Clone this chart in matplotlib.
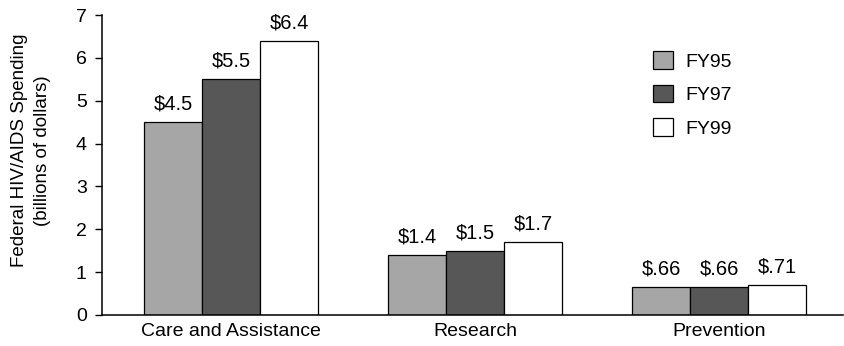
import numpy as np
import matplotlib.pyplot as plt

plt.rcParams['font.family'] = ['Liberation Sans', 'DejaVu Sans']
plt.rcParams['font.size'] = 13

categories = ['Care and Assistance', 'Research', 'Prevention']
years = ['FY95', 'FY97', 'FY99']
fy95 = [4.5, 1.4, 0.66]
fy97 = [5.5, 1.5, 0.66]
fy99 = [6.4, 1.7, 0.71]
labels95 = ['$4.5', '$1.4', '$.66']
labels97 = ['$5.5', '$1.5', '$.66']
labels99 = ['$6.4', '$1.7', '$.71']

colors = ['#a6a6a6', '#575757', 'white']
width = 0.237

fig = plt.figure(figsize=(8.44, 3.46), dpi=100)
ax = fig.add_axes([0.121, 0.0896, 0.878, 0.867])

x = np.arange(len(categories))
series = [fy95, fy97, fy99]
texts = [labels95, labels97, labels99]
for i, (vals, labs) in enumerate(zip(series, texts)):
    pos = x + (i - 1) * width
    bars = ax.bar(pos, vals, width, color=colors[i], edgecolor='black',
                  linewidth=0.9, label=years[i])
    for b, v, t in zip(bars, vals, labs):
        ax.text(b.get_x() + b.get_width() / 2, v + 0.2, t,
                ha='center', va='bottom', fontsize=14.5)

ax.set_xlim(-0.529, 2.508)
ax.set_ylim(0, 7)
ax.set_yticks(range(8))
ax.set_xticks(x)
ax.set_xticklabels(categories, fontsize=14)
ax.tick_params(axis='x', length=0, pad=6)
ax.tick_params(axis='y', labelsize=14, length=5, width=1, direction='out', pad=6)
ax.spines['top'].set_visible(False)
ax.spines['right'].set_visible(False)
ax.spines['left'].set_linewidth(1.1)
ax.spines['bottom'].set_linewidth(1.1)

# two-line y axis title, placed by hand
fig.text(0.0365, 0.565, 'Federal HIV/AIDS Spending\n(billions of dollars)',
         rotation=90, ha='center', va='center', fontsize=13.5,
         linespacing=1.45, multialignment='center')

ax.legend(loc='upper left', bbox_to_anchor=(0.7436, 0.88), frameon=False,
          fontsize=14, handlelength=1.03, handleheight=1.03, borderpad=0,
          borderaxespad=0, labelspacing=0.72, handletextpad=0.62)

fig.savefig('out.png', dpi=100)
